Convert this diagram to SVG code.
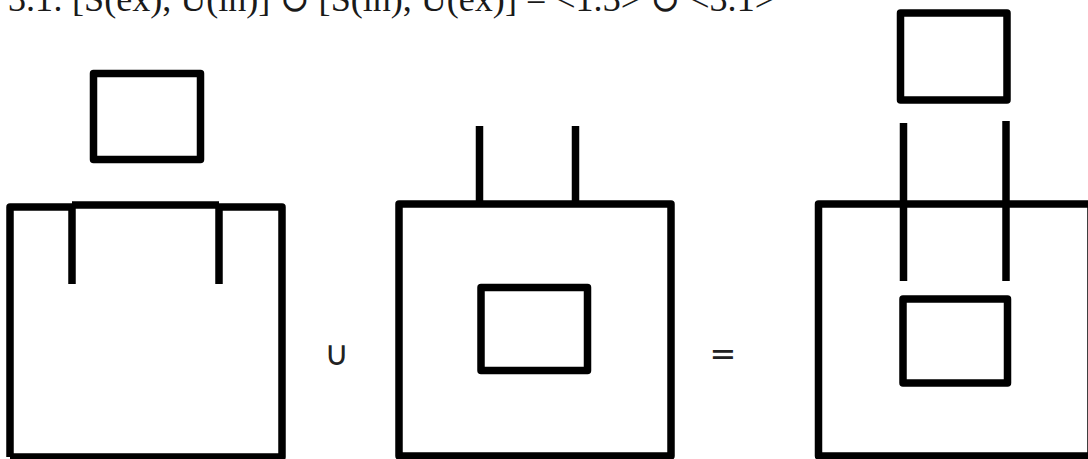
<svg xmlns="http://www.w3.org/2000/svg" width="1088" height="459" viewBox="0 0 1088 459">
  <style>
    .s { fill: none; stroke: #000; stroke-width: 7.5; stroke-linejoin: round; stroke-linecap: butt; }
    .title { font-family: "Liberation Serif", "DejaVu Serif", serif; font-size: 36px; fill: #1a1a1a; }
    .op { font-family: "DejaVu Sans", "Liberation Sans", sans-serif; fill: #222; }
  </style>
  <rect width="1088" height="459" fill="#fff"/>
  <text id="title" class="title" x="8" y="11" textLength="767" lengthAdjust="spacingAndGlyphs">3.1: [S(ex), U(in)] ∪ [S(in), U(ex)] = &lt;1.3&gt; ∪ &lt;3.1&gt;</text>

  <g id="figure-left">
    <rect class="s" x="93.5" y="73.5" width="107" height="86"/>
    <path class="s" d="M10 457 L10 207 L72 207"/>
    <path class="s" d="M72 205 L219 205"/>
    <path class="s" d="M219 207 L282 207 L282 457 L10 457"/>
    <path class="s" d="M72 205 L72 284"/>
    <path class="s" d="M219 205 L219 284"/>
  </g>

  <text id="op-union" class="op" x="337" y="365" font-size="34" text-anchor="middle">∪</text>

  <g id="figure-middle">
    <rect class="s" x="399" y="204" width="272" height="252"/>
    <path class="s" d="M479.5 126 L479.5 204"/>
    <path class="s" d="M575.5 126 L575.5 204"/>
    <rect class="s" x="481" y="287.5" width="106.5" height="83"/>
  </g>

  <text id="op-equals" class="op" x="723" y="365" font-size="32" text-anchor="middle">=</text>

  <g id="figure-right">
    <rect class="s" x="900.5" y="13" width="106.5" height="87"/>
    <path class="s" d="M818.5 456 L818.5 204 L1091 204 L1091 456 Z"/>
    <path class="s" d="M903.5 123 L903.5 281"/>
    <path class="s" d="M1006 121 L1006 281"/>
    <rect class="s" x="903" y="299" width="104.5" height="84"/>
  </g>
</svg>
